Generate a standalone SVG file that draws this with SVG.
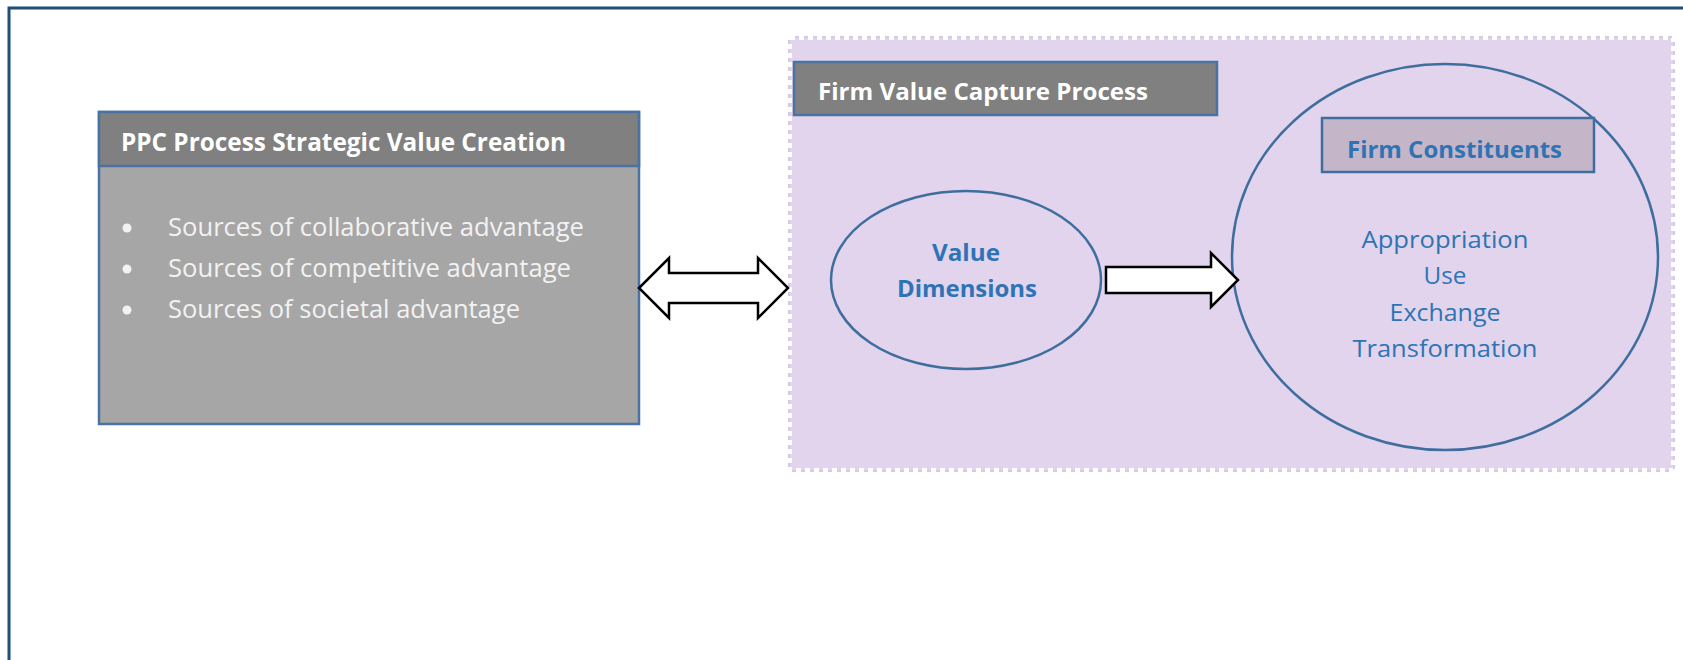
<svg xmlns="http://www.w3.org/2000/svg" width="1683" height="660" viewBox="0 0 1683 660">
  <style>
    .frame { fill: #ffffff; stroke: #1f4e79; stroke-width: 3; }
    .hdr { fill: #808080; stroke: #4a73a3; stroke-width: 2.5; }
    .body { fill: #a6a6a6; stroke: #4a73a3; stroke-width: 2.5; }
    .zone { fill: #e1d4ec; stroke: #ffffff; stroke-width: 4; stroke-dasharray: 5 4; }
    .zone-edge { fill: none; stroke: #d9c7e8; stroke-width: 4; }
    .ring { fill: none; stroke: #3f6e9e; stroke-width: 2.5; }
    .tag { fill: #c4b6c8; stroke: #3f6e9e; stroke-width: 2.5; }
    .block-arrow { fill: #ffffff; stroke: #000000; stroke-width: 2.5; stroke-linejoin: miter; }
    .t-white { font-family: "Open Sans", "Liberation Sans", sans-serif; fill: #ffffff; }
    .t-list { font-family: "Open Sans", "Liberation Sans", sans-serif; fill: #f2f2f2; font-size: 25px; }
    .t-blue { font-family: "Open Sans", "Liberation Sans", sans-serif; fill: #2e74b5; font-size: 24px; }
    .b { font-weight: bold; }
  </style>

  <!-- outer frame, open to the right and bottom -->
  <rect class="frame" x="9" y="8" width="1690" height="670"/>

  <!-- value creation block -->
  <g id="ppc-process">
    <rect class="body" x="99" y="112" width="540" height="312"/>
    <rect class="hdr" x="99" y="112" width="540" height="54"/>
    <text class="t-white b" x="121" y="151" font-size="25" textLength="445" lengthAdjust="spacingAndGlyphs">PPC Process Strategic Value Creation</text>
    <circle cx="127" cy="228" r="4.5" fill="#f2f2f2"/>
    <circle cx="127" cy="269" r="4.5" fill="#f2f2f2"/>
    <circle cx="127" cy="310" r="4.5" fill="#f2f2f2"/>
    <text class="t-list" x="168" y="236" textLength="416" lengthAdjust="spacingAndGlyphs">Sources of collaborative advantage</text>
    <text class="t-list" x="168" y="277" textLength="403" lengthAdjust="spacingAndGlyphs">Sources of competitive advantage</text>
    <text class="t-list" x="168" y="318" textLength="352" lengthAdjust="spacingAndGlyphs">Sources of societal advantage</text>
  </g>

  <!-- value capture zone -->
  <g id="capture-zone">
    <rect class="zone-edge" x="790" y="38" width="883" height="432"/>
    <rect class="zone" x="790" y="38" width="883" height="432"/>
    <rect class="hdr" x="794" y="62" width="423" height="53"/>
    <text class="t-white b" x="818" y="100" font-size="24" textLength="330" lengthAdjust="spacingAndGlyphs">Firm Value Capture Process</text>
  </g>

  <g id="value-dimensions">
    <ellipse class="ring" cx="966" cy="280" rx="135" ry="89"/>
    <text class="t-blue b" x="966" y="261" text-anchor="middle" textLength="68" lengthAdjust="spacingAndGlyphs">Value</text>
    <text class="t-blue b" x="967" y="297" text-anchor="middle" textLength="140" lengthAdjust="spacingAndGlyphs">Dimensions</text>
  </g>

  <g id="firm-constituents">
    <ellipse class="ring" cx="1445" cy="257" rx="213" ry="193"/>
    <rect class="tag" x="1322" y="118" width="272" height="54"/>
    <text class="t-blue b" x="1347" y="158" textLength="215" lengthAdjust="spacingAndGlyphs">Firm Constituents</text>
    <text class="t-blue" x="1445" y="248" text-anchor="middle" textLength="167" lengthAdjust="spacingAndGlyphs">Appropriation</text>
    <text class="t-blue" x="1445" y="284" text-anchor="middle" textLength="43" lengthAdjust="spacingAndGlyphs">Use</text>
    <text class="t-blue" x="1445" y="321" text-anchor="middle" textLength="111" lengthAdjust="spacingAndGlyphs">Exchange</text>
    <text class="t-blue" x="1445" y="357" text-anchor="middle" textLength="185" lengthAdjust="spacingAndGlyphs">Transformation</text>
  </g>

  <!-- block arrows -->
  <g id="connectors">
    <path class="block-arrow" d="M639,288 L669,258 L669,273 L758,273 L758,258 L788,288 L758,318 L758,303 L669,303 L669,318 Z"/>
    <path class="block-arrow" d="M1106,267 L1211,267 L1211,253 L1238,280 L1211,307 L1211,293 L1106,293 Z"/>
  </g>
</svg>
